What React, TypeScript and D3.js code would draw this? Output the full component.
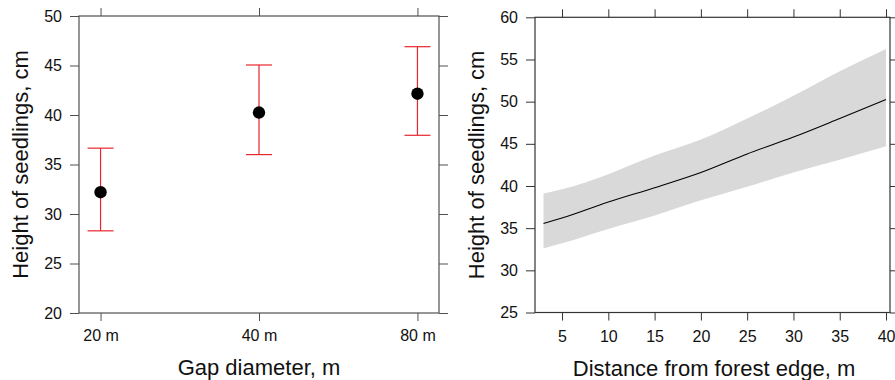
import React, { useEffect, useRef } from 'react';
import * as d3 from 'd3';

// left panel: gap diameter (means with error bars)
const gapCategories = ['20 m', '40 m', '80 m'];
const gapMeans = [32.2, 40.25, 42.15];
const gapUpper = [36.65, 45.05, 46.9];
const gapLower = [28.3, 36.0, 37.95];
const leftYTicks = [20, 25, 30, 35, 40, 45, 50];

// right panel: fitted curve with confidence band
const distance = [3, 5, 10, 15, 20, 25, 30, 35, 40];
const fitMean = [35.55, 36.2, 38.1, 39.8, 41.6, 43.8, 45.8, 48.0, 50.25];
const fitUpper = [39.1, 39.6, 41.4, 43.6, 45.5, 48.0, 50.7, 53.6, 56.25];
const fitLower = [32.6, 33.2, 34.9, 36.5, 38.3, 39.9, 41.6, 43.1, 44.7];
const rightXTicks = [5, 10, 15, 20, 25, 30, 35, 40];
const rightYTicks = [25, 30, 35, 40, 45, 50, 55, 60];

const FONT = '"Liberation Sans", Arial, sans-serif';

const App = () => {
  const svgRef = useRef<SVGSVGElement>(null);

  useEffect(() => {
    const svg = d3.select(svgRef.current);
    svg.selectAll('*').remove();

    svg.append('rect').attr('width', 895).attr('height', 380).attr('fill', '#fff');

    const styleAxis = (g, color) => {
      g.select('.domain').remove();
      g.selectAll('line').attr('stroke', color).attr('stroke-width', 1);
      g.selectAll('text')
        .attr('fill', '#111')
        .style('font-family', FONT)
        .style('font-size', '16px');
    };

    // ---------- left panel ----------
    const L = { left: 79, right: 439, top: 16, bottom: 313 };
    const lColor = '#505050';
    const xL = d3.scalePoint().domain(gapCategories).range([L.left, L.right]).padding(0.136);
    const yL = d3.scaleLinear().domain([20, 50]).range([L.bottom, L.top]);

    svg.append('g')
      .attr('transform', `translate(${L.left},0)`)
      .call(d3.axisLeft(yL).tickValues(leftYTicks).tickSize(9).tickSizeOuter(0).tickPadding(8))
      .call(g => styleAxis(g, lColor));
    svg.append('g')
      .attr('transform', `translate(${L.right},0)`)
      .call(d3.axisRight(yL).tickValues(leftYTicks).tickSize(9).tickSizeOuter(0).tickFormat(() => ''))
      .call(g => styleAxis(g, lColor));
    svg.append('g')
      .attr('transform', `translate(0,${L.bottom})`)
      .call(d3.axisBottom(xL).tickSize(8).tickSizeOuter(0).tickPadding(9))
      .call(g => styleAxis(g, lColor));
    svg.append('g')
      .attr('transform', `translate(0,${L.top})`)
      .call(d3.axisTop(xL).tickSize(8).tickSizeOuter(0).tickFormat(() => ''))
      .call(g => styleAxis(g, lColor));

    svg.append('rect')
      .attr('x', L.left).attr('y', L.top)
      .attr('width', L.right - L.left).attr('height', L.bottom - L.top)
      .attr('fill', 'none').attr('stroke', lColor).attr('stroke-width', 1.2);

    const errColor = '#e8262e';
    const bars = svg.append('g');
    gapCategories.forEach((c, i) => {
      const cx = xL(c);
      bars.append('line')
        .attr('x1', cx).attr('x2', cx)
        .attr('y1', yL(gapUpper[i])).attr('y2', yL(gapLower[i]))
        .attr('stroke', errColor).attr('stroke-width', 1.2);
      [gapUpper[i], gapLower[i]].forEach(v => {
        bars.append('line')
          .attr('x1', cx - 13).attr('x2', cx + 13)
          .attr('y1', yL(v)).attr('y2', yL(v))
          .attr('stroke', errColor).attr('stroke-width', 1.2);
      });
      bars.append('circle')
        .attr('cx', cx).attr('cy', yL(gapMeans[i]))
        .attr('r', 6.2).attr('fill', '#000');
    });

    svg.append('text')
      .attr('x', (L.left + L.right) / 2).attr('y', 375)
      .attr('text-anchor', 'middle')
      .style('font-family', FONT).style('font-size', '22px').attr('fill', '#111')
      .text('Gap diameter, m');
    svg.append('text')
      .attr('transform', `translate(27.5,${(L.top + L.bottom) / 2}) rotate(-90)`)
      .attr('text-anchor', 'middle')
      .style('font-family', FONT).style('font-size', '22px').attr('fill', '#111')
      .text('Height of seedlings, cm');

    // ---------- right panel ----------
    const R = { left: 535, right: 890, top: 17.3, bottom: 312.5 };
    const rColor = '#333';
    const xR = d3.scaleLinear().domain([2.08, 40.43]).range([R.left, R.right]);
    const yR = d3.scaleLinear().domain([25, 60]).range([R.bottom, R.top]);

    const area = d3.area<number>()
      .x((d, i) => xR(distance[i]))
      .y0((d, i) => yR(fitLower[i]))
      .y1((d, i) => yR(fitUpper[i]))
      .curve(d3.curveMonotoneX);
    svg.append('path')
      .datum(distance)
      .attr('d', area)
      .attr('fill', '#d9d9d9');

    const line = d3.line<number>()
      .x((d, i) => xR(distance[i]))
      .y((d, i) => yR(fitMean[i]))
      .curve(d3.curveMonotoneX);
    svg.append('path')
      .datum(distance)
      .attr('d', line)
      .attr('fill', 'none').attr('stroke', '#000').attr('stroke-width', 1.1);

    svg.append('g')
      .attr('transform', `translate(${R.left},0)`)
      .call(d3.axisLeft(yR).tickValues(rightYTicks).tickSize(9).tickSizeOuter(0).tickPadding(8))
      .call(g => styleAxis(g, rColor));
    svg.append('g')
      .attr('transform', `translate(${R.right},0)`)
      .call(d3.axisRight(yR).tickValues(rightYTicks).tickSize(9).tickSizeOuter(0).tickFormat(() => ''))
      .call(g => styleAxis(g, rColor));
    svg.append('g')
      .attr('transform', `translate(0,${R.bottom})`)
      .call(d3.axisBottom(xR).tickValues(rightXTicks).tickSize(8).tickSizeOuter(0).tickPadding(10))
      .call(g => styleAxis(g, rColor));
    svg.append('g')
      .attr('transform', `translate(0,${R.top})`)
      .call(d3.axisTop(xR).tickValues(rightXTicks).tickSize(8).tickSizeOuter(0).tickFormat(() => ''))
      .call(g => styleAxis(g, rColor));

    svg.append('rect')
      .attr('x', R.left).attr('y', R.top)
      .attr('width', R.right - R.left).attr('height', R.bottom - R.top)
      .attr('fill', 'none').attr('stroke', rColor).attr('stroke-width', 1.2);

    svg.append('text')
      .attr('x', 714).attr('y', 376)
      .attr('text-anchor', 'middle')
      .style('font-family', FONT).style('font-size', '22px').attr('fill', '#111')
      .text('Distance from forest edge, m');
    svg.append('text')
      .attr('transform', `translate(483.5,${(R.top + R.bottom) / 2}) rotate(-90)`)
      .attr('text-anchor', 'middle')
      .style('font-family', FONT).style('font-size', '22px').attr('fill', '#111')
      .text('Height of seedlings, cm');
  }, []);

  return (
    <svg
      ref={svgRef}
      width={895}
      height={380}
      style={{ position: 'absolute', left: 0, top: 0, display: 'block' }}
    />
  );
};

export default App;
